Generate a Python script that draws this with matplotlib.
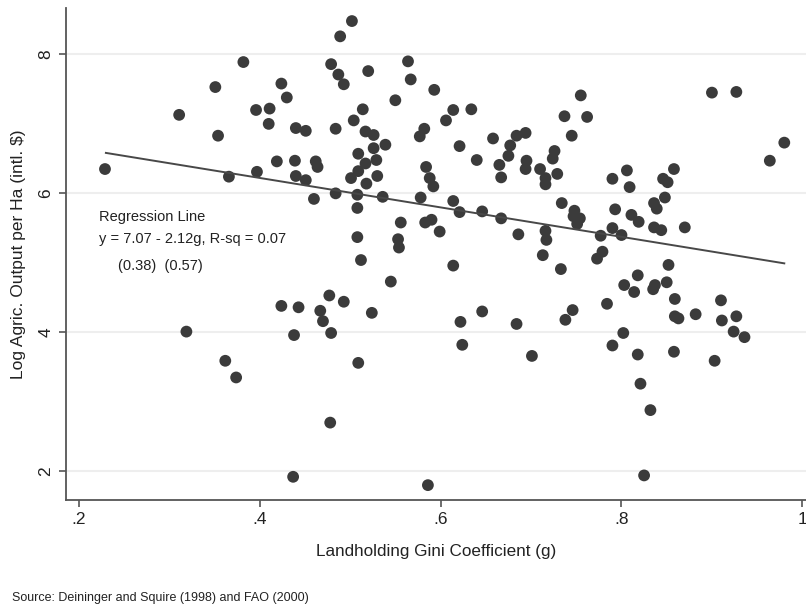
import matplotlib
matplotlib.use("Agg")
import matplotlib.pyplot as plt
import numpy as np

plt.rcParams['font.family'] = ['Liberation Sans', 'DejaVu Sans']

# Landholding Gini coefficient (g) and log agricultural output per ha
gini = [0.382, 0.351, 0.311, 0.354, 0.229, 0.366, 0.319, 0.502, 0.489, 0.479,
        0.487, 0.493, 0.520, 0.564, 0.567, 0.593, 0.424, 0.430, 0.396, 0.411,
        0.410, 0.440, 0.451, 0.484, 0.504, 0.514, 0.550, 0.517, 0.526, 0.526,
        0.539, 0.509, 0.517, 0.529, 0.509, 0.501, 0.530, 0.419, 0.439, 0.462,
        0.464, 0.397, 0.440, 0.451, 0.518, 0.577, 0.582, 0.584, 0.588, 0.592,
        0.606, 0.614, 0.634, 0.755, 0.737, 0.762, 0.745, 0.621, 0.658, 0.684,
        0.694, 0.677, 0.675, 0.640, 0.665, 0.695, 0.694, 0.710, 0.726, 0.724,
        0.729, 0.667, 0.716, 0.716, 0.790, 0.806, 0.809, 0.900, 0.927, 0.980,
        0.964, 0.858, 0.846, 0.851, 0.460, 0.484, 0.508, 0.536, 0.508, 0.578,
        0.556, 0.583, 0.590, 0.599, 0.508, 0.553, 0.554, 0.512, 0.545, 0.477,
        0.493, 0.424, 0.443, 0.467, 0.470, 0.524, 0.438, 0.479, 0.614, 0.621,
        0.646, 0.667, 0.686, 0.716, 0.717, 0.734, 0.748, 0.747, 0.754, 0.751,
        0.793, 0.811, 0.790, 0.777, 0.800, 0.779, 0.773, 0.713, 0.733, 0.614,
        0.803, 0.814, 0.784, 0.746, 0.738, 0.646, 0.622, 0.684, 0.802, 0.624,
        0.701, 0.790, 0.819, 0.848, 0.836, 0.839, 0.836, 0.844, 0.870, 0.852,
        0.818, 0.837, 0.835, 0.850, 0.859, 0.859, 0.863, 0.882, 0.910, 0.911,
        0.927, 0.924, 0.936, 0.818, 0.858, 0.903, 0.821, 0.832, 0.825, 0.509,
        0.478, 0.437, 0.586, 0.362, 0.374]
output = [7.89, 7.53, 7.13, 6.83, 6.35, 6.24, 4.01, 8.48, 8.26, 7.86,
          7.71, 7.57, 7.76, 7.90, 7.64, 7.49, 7.58, 7.38, 7.20, 7.22,
          7.00, 6.94, 6.90, 6.93, 7.05, 7.21, 7.34, 6.89, 6.84, 6.65,
          6.70, 6.57, 6.43, 6.48, 6.32, 6.22, 6.25, 6.46, 6.47, 6.46,
          6.38, 6.31, 6.25, 6.19, 6.14, 6.82, 6.93, 6.38, 6.22, 6.10,
          7.05, 7.20, 7.21, 7.41, 7.11, 7.10, 6.83, 6.68, 6.79, 6.83,
          6.87, 6.69, 6.54, 6.48, 6.41, 6.47, 6.35, 6.35, 6.61, 6.50,
          6.28, 6.23, 6.22, 6.13, 6.21, 6.33, 6.09, 7.45, 7.46, 6.73,
          6.47, 6.35, 6.21, 6.16, 5.92, 6.00, 5.98, 5.95, 5.79, 5.94,
          5.58, 5.58, 5.62, 5.45, 5.37, 5.34, 5.22, 5.04, 4.73, 4.53,
          4.44, 4.38, 4.36, 4.31, 4.16, 4.28, 3.96, 3.99, 5.89, 5.73,
          5.74, 5.64, 5.41, 5.46, 5.33, 5.86, 5.75, 5.67, 5.64, 5.56,
          5.77, 5.69, 5.50, 5.39, 5.40, 5.16, 5.06, 5.11, 4.91, 4.96,
          4.68, 4.58, 4.41, 4.32, 4.18, 4.30, 4.15, 4.12, 3.99, 3.82,
          3.66, 3.81, 5.59, 5.94, 5.86, 5.78, 5.51, 5.47, 5.51, 4.97,
          4.82, 4.68, 4.62, 4.72, 4.48, 4.23, 4.20, 4.26, 4.46, 4.17,
          4.23, 4.01, 3.93, 3.68, 3.72, 3.59, 3.26, 2.88, 1.94, 3.56,
          2.70, 1.92, 1.80, 3.59, 3.35]

# fitted line y = a + b*g over the range of g
intercept = 7.07
slope = -2.12
fit_range = [0.23, 0.98]

xticks = [0.2, 0.4, 0.6, 0.8, 1.0]
xtick_labels = ['.2', '.4', '.6', '.8', '1']
yticks = [2, 4, 6, 8]

fig = plt.figure(figsize=(8.06, 6.05), dpi=100)
ax = fig.add_axes([0.082, 0.174, 0.918, 0.813])

ax.scatter(gini, output, s=72, color='#3b3b3b', edgecolors='none', zorder=3)
gfit = np.array(fit_range)
ax.plot(gfit, intercept + slope * gfit, color='#484848', lw=1.4, zorder=4)

ax.set_xlim(0.186, 1.004)
ax.set_ylim(1.59, 8.67)
ax.set_xticks(xticks)
ax.set_xticklabels(xtick_labels)
ax.set_yticks(yticks)
ax.set_yticklabels([str(v) for v in yticks], rotation=90, va='center')
ax.yaxis.grid(True, color='#eeeeee', lw=1.5, zorder=0)
ax.set_axisbelow(True)

for s in ['top', 'right']:
    ax.spines[s].set_visible(False)
for s in ['left', 'bottom']:
    ax.spines[s].set_color('#555555')
    ax.spines[s].set_linewidth(1.3)
ax.tick_params(length=5, width=1.2, color='#555555', labelsize=12.5,
               labelcolor='#222222', pad=4)

ax.set_xlabel('Landholding Gini Coefficient (g)', fontsize=12.3, color='#222222', labelpad=12)
ax.set_ylabel('Log Agric. Output per Ha (intl. $)', fontsize=12.5, color='#222222', labelpad=9)

ax.text(0.044, 0.567, 'Regression Line', transform=ax.transAxes, fontsize=10.5, color='#222222')
ax.text(0.044, 0.521, 'y = 7.07 - 2.12g, R-sq = 0.07', transform=ax.transAxes,
        fontsize=10.5, color='#222222')
ax.text(0.070, 0.467, '(0.38)  (0.57)', transform=ax.transAxes, fontsize=10.5, color='#222222')

fig.text(0.015, 0.006, 'Source: Deininger and Squire (1998) and FAO (2000)',
         fontsize=9, color='#222222')

fig.savefig('out.png', dpi=100)
